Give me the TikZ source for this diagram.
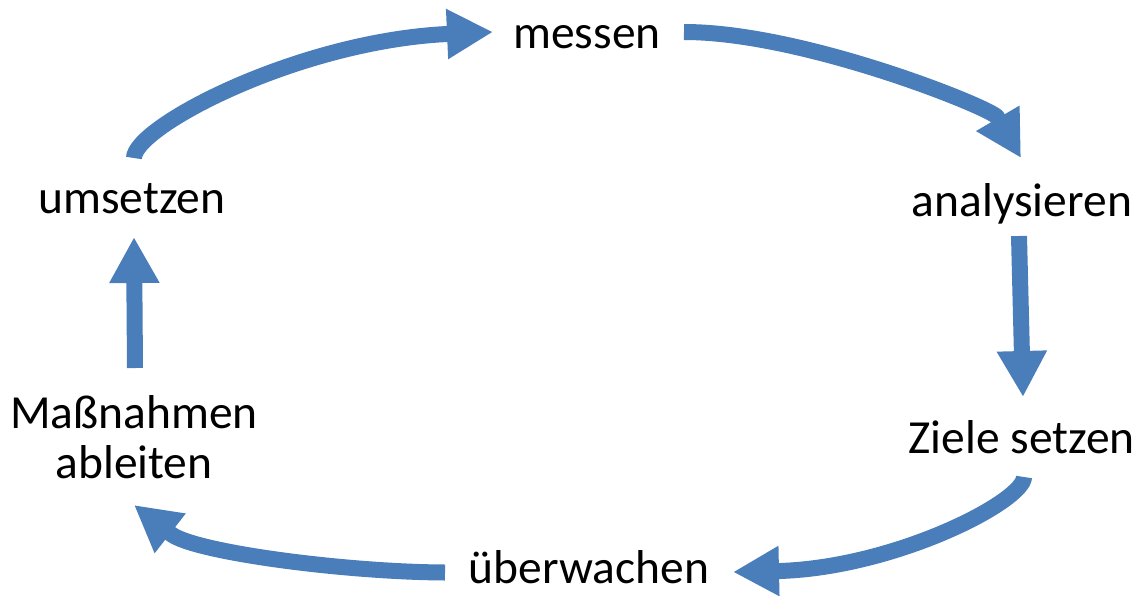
\documentclass[tikz,border=0pt]{standalone}
\usepackage{fontspec}
\setmainfont{Carlito}
\usetikzlibrary{arrows.meta}
\definecolor{cycleblue}{RGB}{74,126,187}
\tikzset{
  label/.style={inner sep=0pt, anchor=base, align=center,
    font=\fontsize{47.5}{50}\selectfont},
  flow/.style={draw=cycleblue, line width=16pt, line cap=butt,
    -{Triangle[width=47pt,length=46pt]}}
}
\begin{document}
\begin{tikzpicture}[x=1pt,y=-1pt]
  \useasboundingbox (0,0) rectangle (1141,595);

  % stages of the cycle (base anchor of a two-line label is its last line)
  \node[label] (messen)   at (587,48)    {messen};
  \node[label] (analyse)  at (1022,216.5) {analysieren};
  \node[label] (ziele)    at (1021.5,453) {Ziele setzen};
  \node[label] (ueberw)   at (589,583)   {überwachen};
  \node[label] (massn)    at (134,478)   {Maßnahmen\\ableiten};
  \node[label] (umsetzen) at (132,213)   {umsetzen};

  % arrow end points
  \coordinate (a1s) at (134,158);  \coordinate (a1e) at (493,32);
  \coordinate (a2s) at (684,32);   \coordinate (a2e) at (1021,158);
  \coordinate (a3s) at (1019,236); \coordinate (a3e) at (1023,397);
  \coordinate (a4s) at (1024,477); \coordinate (a4e) at (733,572);
  \coordinate (a5s) at (445,572.5); \coordinate (a5e) at (134,505);
  \coordinate (a6s) at (135,368);  \coordinate (a6e) at (134,237);

  % connectors
  \draw[flow] (a1s) .. controls (134,127) and (297,41.5) .. (447,34) -- (a1e);
  \draw[flow] (a2s) .. controls (804,32) and (992,108.3) .. (997,117) -- (a2e);
  \draw[flow] (a3s) -- (a3e);
  \draw[flow] (a4s) .. controls (1024,501) and (897,567) .. (780,571) -- (a4e);
  \draw[flow] (a5s) .. controls (345,572) and (194.7,552.3) .. (171,534) -- (a5e);
  \draw[flow] (a6s) -- (a6e);
\end{tikzpicture}
\end{document}
